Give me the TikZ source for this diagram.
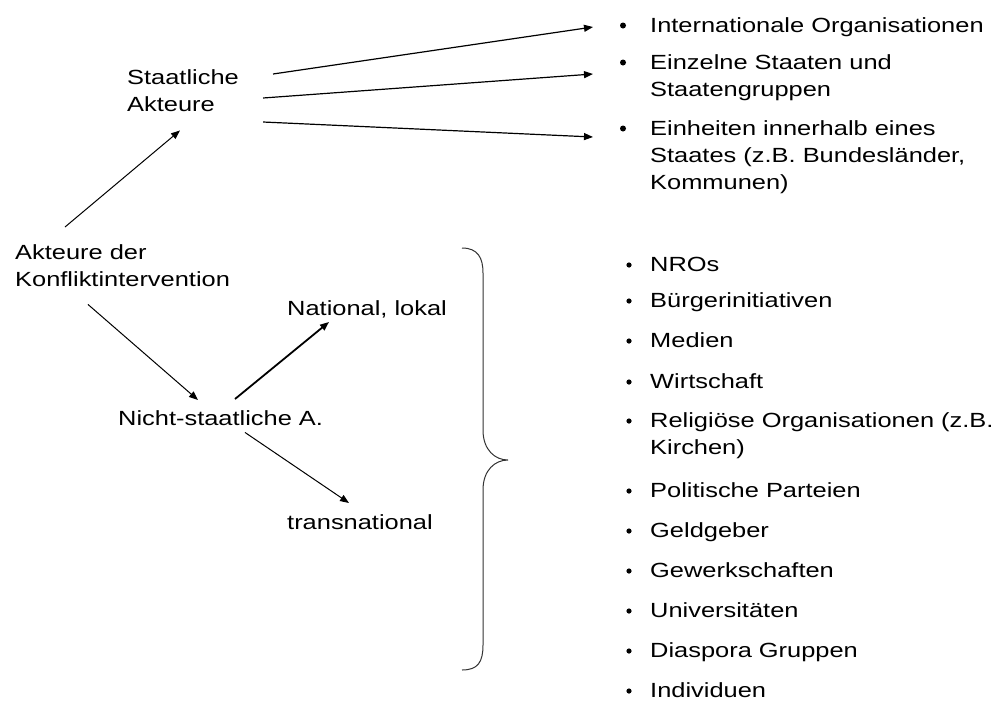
\documentclass[tikz,border=0pt]{standalone}
\usepackage{fontspec}
\setmainfont{Liberation Sans}[FakeStretch=1.24]
\usetikzlibrary{arrows.meta}
\begin{document}
\begin{tikzpicture}[x=1pt,y=-1pt,
	font=\fontsize{20.5}{27}\selectfont,
	txt/.style={anchor=north west, inner sep=0pt, align=left},
	arr/.style={-{Triangle[length=9pt,width=7pt]}, line width=1pt},
	bul/.style={fill=black}]
\useasboundingbox (0,0) rectangle (1007,702);
\node[txt] (akteure) at (15,244.5) {Akteure der\\Konfliktintervention};
\node[txt] (staat) at (127,69.5) {Staatliche\\Akteure};
\node[txt] (nicht) at (118,410.5) {Nicht-staatliche A.};
\node[txt] (national) at (287,300.5) {National, lokal};
\node[txt] (trans) at (287,514.5) {transnational};
\node[txt] (int) at (650,17.5) {Internationale Organisationen};
\node[txt] (einz) at (650,54.5) {Einzelne Staaten und\\Staatengruppen};
\node[txt] (einh) at (650,120.5) {Einheiten innerhalb eines\\Staates (z.B. Bundesländer,\\Kommunen)};
\foreach \y in {17.5,54.5,120.5}
	\fill[bul] (623,{\y+8}) circle (3);
\foreach \y/\t [count=\i] in {256.5/NROs, 292.5/Bürgerinitiativen, 332.5/Medien, 373.5/Wirtschaft,
		412.5/{Religiöse Organisationen (z.B.\\Kirchen)}, 482.5/Politische Parteien, 522.5/Geldgeber,
		562.5/Gewerkschaften, 602.5/Universitäten, 642.5/Diaspora Gruppen, 682.5/Individuen} {
	\node[txt] (low\i) at (650,\y) {\t};
	\fill[bul] (629,{\y+8.5}) circle (2.6);
}
\draw[arr] ([xshift=50pt,yshift=17.5pt]akteure.north west) -- ([xshift=53pt,yshift=-18.5pt]staat.south west);
\draw[arr] ([xshift=73pt,yshift=-17.5pt]akteure.south west) -- ([xshift=80pt,yshift=10.5pt]nicht.north west);
\draw[arr, line width=1.8pt] ([xshift=117pt,yshift=11.5pt]nicht.north west) -- ([xshift=42pt,yshift=-21.5pt]national.north west);
\draw[arr] ([xshift=127pt,yshift=-6.5pt]nicht.south west) -- ([xshift=62pt,yshift=11.5pt]trans.north west);
\draw[arr, line width=1.2pt] ([xshift=34pt,yshift=-4.5pt]staat.north east) -- ([xshift=-57pt,yshift=-9.5pt]int.north west);
\draw[arr, line width=1.2pt] ([xshift=24pt,yshift=-28.5pt]staat.north east) -- ([xshift=-57pt,yshift=-19.5pt]einz.north west);
\draw[arr, line width=1.2pt] ([xshift=24pt,yshift=-52.5pt]staat.north east) -- ([xshift=-57pt,yshift=-16.5pt]einh.north west);
\draw[line width=1pt, black!80] (462,248) .. controls (478,248) and (483,258) .. (483,273) -- (483,430)
	.. controls (483,450) and (495,460) .. (508,460) .. controls (495,460) and (483,470) .. (483,490)
	-- (483,645) .. controls (483,662) and (478,670) .. (462,670);
\end{tikzpicture}
\end{document}
